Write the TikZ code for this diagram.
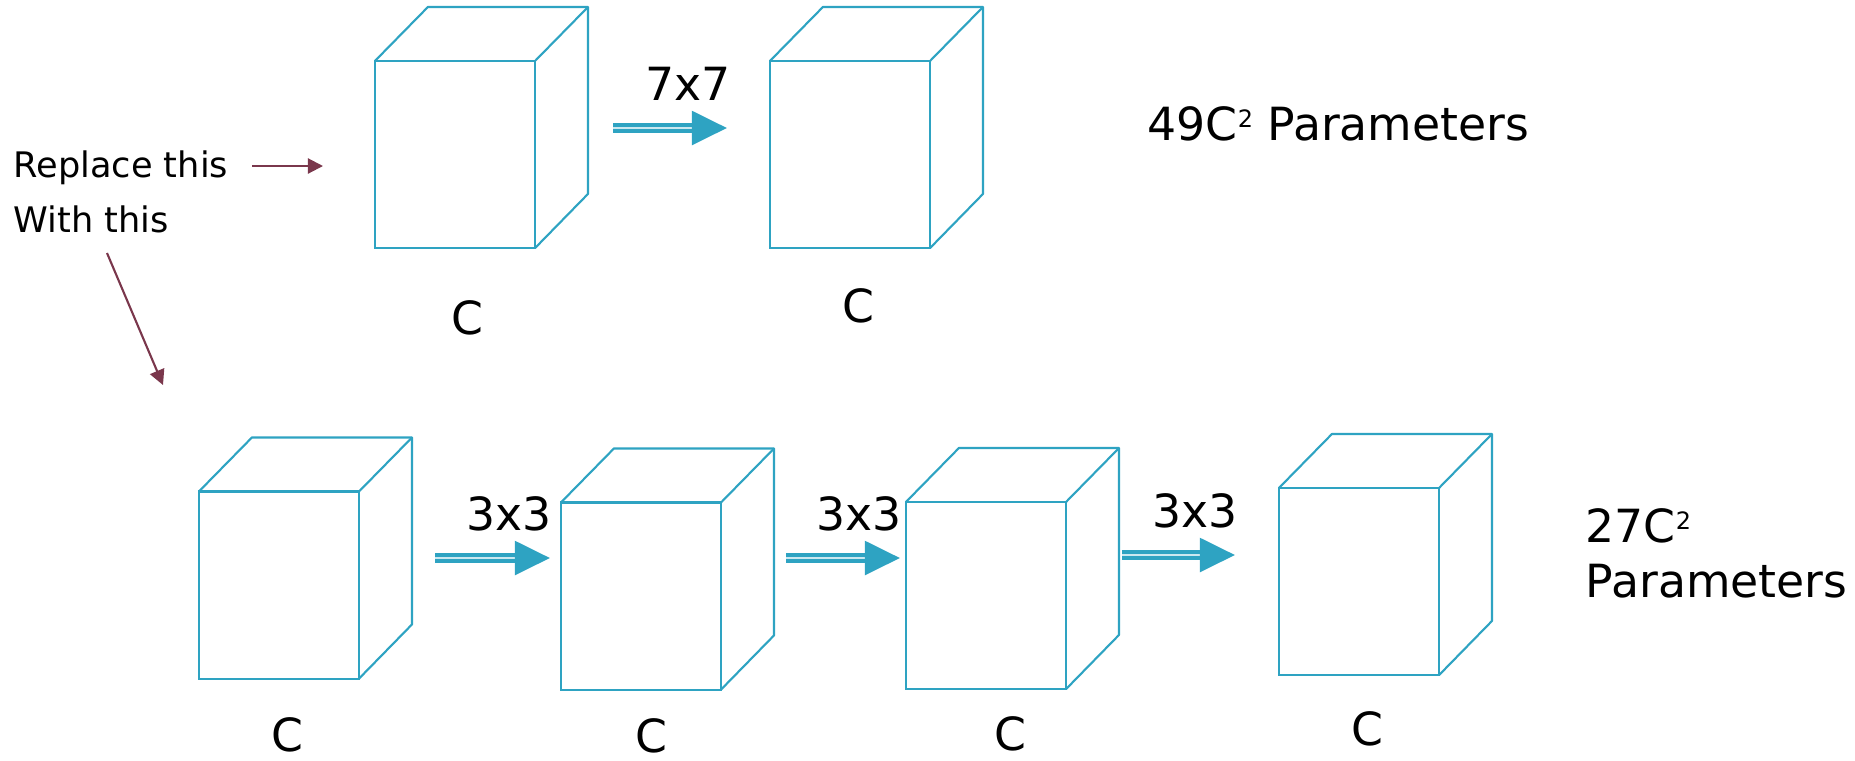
\documentclass[tikz,border=0pt]{standalone}
\usepackage{fontspec}
\setmainfont{DejaVu Sans}
\usetikzlibrary{arrows.meta, positioning}
\definecolor{cubeblue}{RGB}{46,163,194}
\definecolor{notered}{RGB}{122,55,76}
\newcommand{\sqr}{\raisebox{0.13cm}{\fontsize{6.8}{6.8}\selectfont 2}}

\begin{document}
\begin{tikzpicture}[x=0.01cm, y=-0.01cm,
    face/.style={draw=cubeblue, line width=0.6pt, minimum width=1.6cm, minimum height=1.87cm, inner sep=0pt, outer sep=0pt},
    edge/.style={draw=cubeblue, line width=0.6pt, line join=round},
    flow/.style={draw=cubeblue, line width=1.3pt, double=cubeblue!25!white, double distance=0.5pt, -{Triangle[length=10pt,width=9.5pt]}},
    note/.style={draw=notered, line width=0.6pt, -{Triangle[length=4.3pt,width=4.3pt]}},
    big/.style={font=\fontsize{13}{15.6}\selectfont, inner sep=0pt, anchor=base},
    small/.style={font=\fontsize{10}{12}\selectfont, inner sep=0pt, anchor=base west}]

    \useasboundingbox (0,0) rectangle (1855,760);

    % Front faces of the cubes, top row
    \node[face] (top1) at (455,154.5) {};
    \node[face] (top2) at (850,154.5) {};

    % Front faces of the cubes, bottom row
    \node[face] (bot1) at (279,585) {};
    \node[face] (bot2) at (641,596) {};
    \node[face] (bot3) at (986,595.5) {};
    \node[face] (bot4) at (1359,581.5) {};

    % Top and side faces of every cube
    \foreach \c in {top1,top2,bot1,bot2,bot3,bot4}{
        \draw[edge] (\c.north west) -- ++(53,-54) -- ++(160,0) -- ++(0,187) -- (\c.south east);
        \draw[edge] (\c.north east) -- ++(53,-54);
    }

    % Channel labels under the cubes
    \node[big] (ctop1) at (467,334) {C};
    \node[big] (ctop2) at (858,322) {C};
    \node[big] (cbot1) at (287,751) {C};
    \node[big] (cbot2) at (651,752) {C};
    \node[big] (cbot3) at (1010,750) {C};
    \node[big] (cbot4) at (1367,745) {C};

    % Single 7x7 convolution
    \coordinate (k7s) at (613,128);
    \coordinate (k7e) at (727,128);
    \draw[flow] (k7s) -- (k7e);
    \node[big] (k7) at (688,100) {7x7};

    % Stack of three 3x3 convolutions
    \coordinate (k3as) at (435,558);
    \coordinate (k3ae) at (550,558);
    \coordinate (k3bs) at (786,558);
    \coordinate (k3be) at (900,558);
    \coordinate (k3cs) at (1122,555);
    \coordinate (k3ce) at (1235,555);
    \draw[flow] (k3as) -- (k3ae);
    \draw[flow] (k3bs) -- (k3be);
    \draw[flow] (k3cs) -- (k3ce);
    \node[big] (k3a) at (509,530) {3x3};
    \node[big] (k3b) at (859,530) {3x3};
    \node[big] (k3c) at (1195,527) {3x3};

    % Parameter counts
    \node[big, anchor=base west] (par49) at (1147,140) {49C\sqr\ Parameters};
    \node[big, anchor=base west] (par27) at (1585,542) {27C\sqr};
    \node[big, anchor=base west] (par27b) at (1585,597) {Parameters};

    % Side notes with their pointers
    \node[small] (replace) at (13,177) {Replace this};
    \node[small] (with) at (13,232) {With this};
    \coordinate (replaceS) at (252,166);
    \coordinate (replaceE) at (323,166);
    \coordinate (withS) at (107,253);
    \coordinate (withE) at (163,385);
    \draw[note] (replaceS) -- (replaceE);
    \draw[note] (withS) -- (withE);

\end{tikzpicture}
\end{document}
